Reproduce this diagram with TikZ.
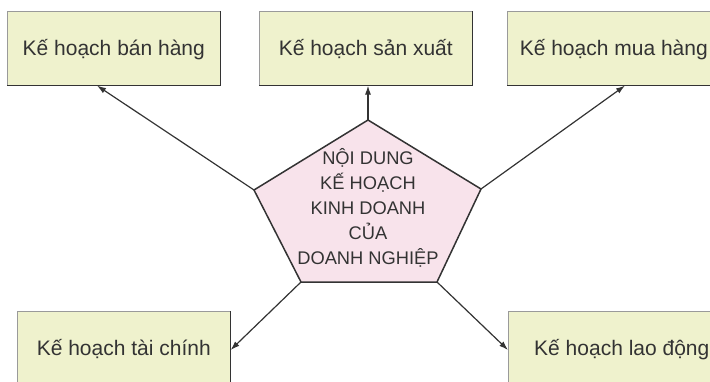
\documentclass[tikz,border=0pt]{standalone}
\usepackage{fontspec}
\setmainfont{Liberation Sans}
\usepackage{tikz}
\usetikzlibrary{positioning,arrows.meta,calc}
\definecolor{PlanFill}{HTML}{EFF2CD}
\definecolor{CoreFill}{HTML}{F8E3EB}
\definecolor{EdgeDark}{HTML}{333333}
\definecolor{EdgeLight}{HTML}{9A9A9A}

\tikzset{
  planbox/.style={fill=PlanFill, draw=EdgeLight, line width=0.6pt,
    minimum width=213pt, minimum height=74pt, inner sep=0pt,
    text height=15pt, text depth=0pt, text=EdgeDark,
    font=\fontsize{21}{25}\selectfont},
  link/.style={EdgeDark, line width=1.2pt, -{Latex[length=9pt,width=6pt]}}
}

\begin{document}
\begin{tikzpicture}[x=1pt, y=-1pt]
  \useasboundingbox (0,0) rectangle (710,381);
  \clip (0,0) rectangle (710,381);
  % plan boxes
  \node[planbox, anchor=north west] (ban) at (7,11)   {Kế hoạch bán hàng};
  \node[planbox, anchor=north west] (sx)  at (259,11) {Kế hoạch sản xuất};
  \node[planbox, anchor=north west] (mua) at (507,11) {Kế hoạch mua hàng};
  \node[planbox, anchor=north west] (tc)  at (17,311) {Kế hoạch tài chính};
  \node[planbox, anchor=north west, minimum width=227pt] (ld) at (508,311) {Kế hoạch lao động};
  \foreach \n in {ban,sx,mua,tc,ld}
    \draw[EdgeDark, line width=1.2pt] (\n.south west) -- (\n.south east) -- (\n.north east);
  % core pentagon
  \coordinate (p1) at (368,120);
  \coordinate (p2) at (481,189);
  \coordinate (p3) at (437,282);
  \coordinate (p4) at (301,282);
  \coordinate (p5) at (254,190);
  \draw[fill=CoreFill, draw=EdgeDark, line width=1.5pt, line join=miter]
    (p1) -- (p2) -- (p3) -- (p4) -- (p5) -- cycle;
  \node[align=center, text=EdgeDark, font=\fontsize{18.3}{25}\selectfont] (core) at (368,208)
    {NỘI DUNG\\KẾ HOẠCH\\KINH DOANH\\CỦA\\DOANH NGHIỆP};
  % links
  \draw[link] (p5) -- ($(ban.south west)+(90,0)$);
  \draw[link] (p1) -- (p1 |- sx.south);
  \draw[link] (p2) -- ($(mua.south west)+(118,0)$);
  \draw[link] (p4) -- ($(tc.north east)+(0,39)$);
  \draw[link] (p3) -- ($(ld.north west)+(0,39)$);
\end{tikzpicture}
\end{document}
